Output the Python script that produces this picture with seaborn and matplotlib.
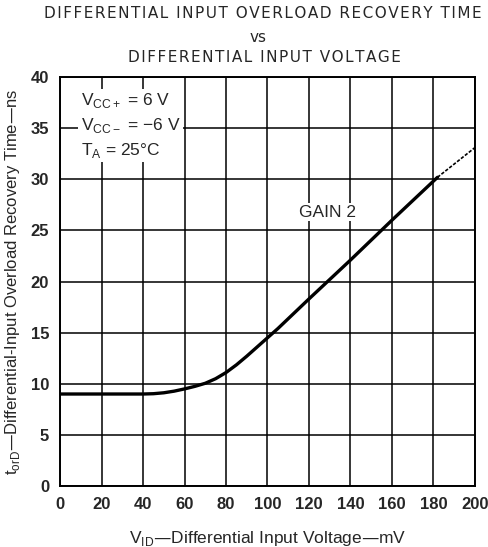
import numpy as np
import matplotlib
matplotlib.use("Agg")
import matplotlib.pyplot as plt
import seaborn as sns
import pandas as pd

# curve
vid_mv = [0, 20, 40, 45, 50, 55, 60, 65, 70, 75, 80, 85, 90, 95, 100, 105, 120, 140, 160, 182]
t_ns = [9.0, 9.0, 9.0, 9.03, 9.12, 9.28, 9.5, 9.75, 10.05, 10.5, 11.1, 11.85, 12.7, 13.6, 14.5, 15.4,
        18.3, 22.1, 26.0, 30.2]
# dotted extrapolated tail
vid_tail = [182, 200]
t_tail = [30.2, 33.1]

xticks = list(range(0, 201, 20))
yticks = list(range(0, 41, 5))

title_lines = ["DIFFERENTIAL INPUT OVERLOAD RECOVERY TIME", "vs", "DIFFERENTIAL INPUT VOLTAGE"]


def spaced(s):
    # datasheet titles are letter-spaced; pad with hair spaces
    return "\u200a".join(s)


sns.set_theme(style="white")
plt.rcParams['font.family'] = ['Liberation Sans', 'DejaVu Sans']

fig = plt.figure(figsize=(4.89, 5.47), dpi=100)
ax = fig.add_axes([0.123, 0.1115, 0.848, 0.7475])

df = pd.DataFrame({"vid": vid_mv, "t": t_ns})
sns.lineplot(data=df, x="vid", y="t", ax=ax, color="black", linewidth=2.4)
ax.plot(vid_tail, t_tail, color="black", linewidth=1.2, linestyle=(0, (2, 1)))

ax.set_xlim(0, 200)
ax.set_ylim(0, 40)
ax.set_xticks(xticks)
ax.set_yticks(yticks)
ax.set_xticklabels([str(v) for v in xticks], fontsize=12, fontweight="bold")
ax.set_yticklabels([str(v) for v in yticks], fontsize=12, fontweight="bold")
ax.tick_params(length=0, pad=8)
ax.grid(True, color="black", linewidth=1.1)
for s in ax.spines.values():
    s.set_color("black")
    s.set_linewidth(1.4)

ax.set_xlabel(r"V$_{\mathregular{ID}}$—Differential Input Voltage—mV", fontsize=12.5, labelpad=12)
ax.set_ylabel(r"t$_{\mathregular{orD}}$—Differential-Input Overload Recovery Time—ns", fontsize=12, labelpad=6)

fig.text(0.538, 0.975, spaced(title_lines[0]), ha="center", va="center",
         fontsize=11, family=["DejaVu Sans"])
fig.text(0.528, 0.932, title_lines[1], ha="center", va="center", fontsize=11, family=["DejaVu Sans"])
fig.text(0.54, 0.895, spaced(title_lines[2]), ha="center", va="center", fontsize=11,
         family=["DejaVu Sans"])

ax.text(0.05, 0.965,
        "V$_{\\mathregular{CC+}}$ = 6 V\nV$_{\\mathregular{CC-}}$ = \u22126 V\nT$_{\\mathregular{A}}$ = 25\u00b0C",
        transform=ax.transAxes, ha="left", va="top", fontsize=12.5, linespacing=1.4,
        bbox=dict(facecolor="white", edgecolor="none", pad=2))
ax.text(129, 26.8, "GAIN 2", ha="center", va="center", fontsize=12.5,
        bbox=dict(facecolor="white", edgecolor="none", pad=1))

fig.savefig("out.png", dpi=100)
